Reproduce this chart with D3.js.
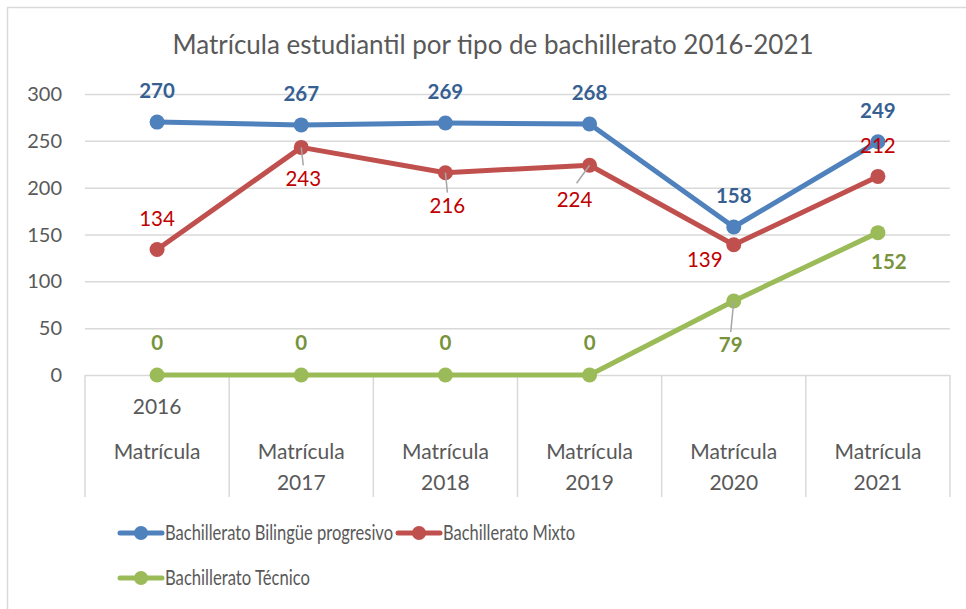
<!DOCTYPE html>
<html>
<head>
<meta charset="utf-8">
<script src="https://cdn.jsdelivr.net/npm/d3@7"></script>
<style>
  body { margin: 0; background: #fff; }
  svg { font-family: Lato, "Open Sans", sans-serif; }
</style>
</head>
<body>
<div class="main"></div>
<script>
// Data
const categories = ["Matrícula 2016", "Matrícula 2017", "Matrícula 2018", "Matrícula 2019", "Matrícula 2020", "Matrícula 2021"]
const bilingue = [270, 267, 269, 268, 158, 249]
const mixto = [134, 243, 216, 224, 139, 212]
const tecnico = [0, 0, 0, 0, 79, 152]
const seriesNames = ["Bachillerato Bilingüe progresivo", "Bachillerato Mixto", "Bachillerato Técnico"]
const yTicks = [0, 50, 100, 150, 200, 250, 300]

const width = 966
const height = 609
const margin = ({top: 94, right: 16, bottom: 234, left: 85})

// label offsets (dx, dy from the point), leader = draw leader line
const labelPlacement = [
  [[0, -31], [0, -31], [0, -31], [0, -31], [0, -31], [0, -31]],
  [[0, -31], [2, 31, true], [2, 33, true], [-15, 35, true], [-29, 15], [0, -31]],
  [[0, -32], [0, -32], [0, -32], [0, -32], [-3, 44, true], [11, 29]]
]
const lineColors = ["#4f81bd", "#c0504d", "#9bbb59"]
const labelColors = ["#376092", "#c00000", "#77933c"]
const labelWeights = ["bold", "normal", "bold"]

const series = [bilingue, mixto, tecnico].map((values, i) => ({name: seriesNames[i], values: values, i: i}))

const svg = d3.select(".main").append("svg")
  .attr("width", width)
  .attr("height", height)

// chart border (left and top visible)
svg.append("path")
  .attr("d", `M7.5,${height} V7.5 H${width}`)
  .attr("fill", "none")
  .attr("stroke", "#d9d9d9")
  .attr("stroke-width", 1.5)

const x = d3.scaleBand()
  .domain(categories)
  .range([margin.left, width - margin.right])

const y = d3.scaleLinear()
  .domain([0, 300])
  .range([375, margin.top])

// title
svg.append("text")
  .text("Matrícula estudiantil por tipo de bachillerato 2016-2021")
  .attr("x", 493)
  .attr("y", 54)
  .attr("text-anchor", "middle")
  .attr("font-size", 26)
  .attr("fill", "#595959")

// gridlines
svg.append("g")
  .selectAll("line")
  .data(yTicks.filter(d => d > 0))
  .join("line")
    .attr("x1", margin.left)
    .attr("x2", width - margin.right)
    .attr("y1", d => y(d) + 0.5)
    .attr("y2", d => y(d) + 0.5)
    .attr("stroke", "#d9d9d9")
    .attr("stroke-width", 1.5)

// y axis labels
svg.append("g")
  .selectAll("text")
  .data(yTicks)
  .join("text")
    .text(d => d)
    .attr("x", 62)
    .attr("y", d => y(d))
    .attr("dy", "0.35em")
    .attr("text-anchor", "end")
    .attr("font-size", 20)
    .attr("fill", "#595959")

// category axis: baseline plus band separators
const xAxis = svg.append("g")
xAxis.append("line")
  .attr("x1", margin.left)
  .attr("x2", width - margin.right)
  .attr("y1", y(0) + 0.5)
  .attr("y2", y(0) + 0.5)
  .attr("stroke", "#d9d9d9")
  .attr("stroke-width", 1.5)

const edges = categories.map(c => x(c)).concat([x.range()[1]])
xAxis.selectAll(".sep")
  .data(edges)
  .join("line")
    .attr("class", "sep")
    .attr("x1", d => d)
    .attr("x2", d => d)
    .attr("y1", y(0))
    .attr("y2", 497)
    .attr("stroke", "#d9d9d9")
    .attr("stroke-width", 1.5)

const catLabels = xAxis.selectAll(".cat")
  .data(categories)
  .join("g")
    .attr("class", "cat")
    .attr("transform", d => `translate(${x(d) + x.bandwidth() / 2}, 0)`)

catLabels.append("text")
  .text(d => d.split(" ")[0])
  .attr("y", 459)
  .attr("text-anchor", "middle")
  .attr("font-size", 21)
  .attr("fill", "#595959")

catLabels.append("text")
  .text(d => d.split(" ")[1])
  .attr("y", (d, i) => i === 0 ? 414 : 490)
  .attr("text-anchor", "middle")
  .attr("font-size", 21)
  .attr("fill", "#595959")

// lines
const line = d3.line()
  .x((d, i) => x(categories[i]) + x.bandwidth() / 2)
  .y(d => y(d))

const g = svg.append("g")
  .selectAll("g")
  .data(series)
  .join("g")

g.append("path")
  .attr("d", d => line(d.values))
  .attr("fill", "none")
  .attr("stroke", d => lineColors[d.i])
  .attr("stroke-width", 5)
  .attr("stroke-linejoin", "round")

g.selectAll("circle")
  .data(d => d.values.map(v => ({v: v, s: d.i})))
  .join("circle")
    .attr("cx", (d, i) => x(categories[i]) + x.bandwidth() / 2)
    .attr("cy", d => y(d.v))
    .attr("r", 7.5)
    .attr("fill", d => lineColors[d.s])

// data labels, drawn after all lines so they sit on top
const labels = svg.append("g")
series.forEach(s => {
  s.values.forEach((v, i) => {
    const px = x(categories[i]) + x.bandwidth() / 2
    const py = y(v)
    const p = labelPlacement[s.i][i]
    if (p[2]) {
      // leader line from point towards label
      const lx = px + p[0]
      const ly = py + p[1] - 13
      labels.append("line")
        .attr("x1", px)
        .attr("y1", py)
        .attr("x2", p[0] < -5 ? lx + 2 : lx)
        .attr("y2", p[0] < -5 ? py + p[1] - 17 : ly)
        .attr("stroke", "#a6a6a6")
        .attr("stroke-width", 1.5)
    }
    labels.append("text")
      .text(v)
      .attr("x", px + p[0])
      .attr("y", py + p[1])
      .attr("dy", "0.35em")
      .attr("text-anchor", "middle")
      .attr("font-size", 20.5)
      .attr("font-weight", labelWeights[s.i])
      .attr("fill", labelColors[s.i])
  })
})

// legend
const legendItems = [
  {x: 120, y: 533, w: 228},
  {x: 398, y: 533, w: 132},
  {x: 120, y: 578, w: 145}
]
const legend = svg.append("g")
  .selectAll("g")
  .data(series)
  .join("g")
    .attr("transform", d => `translate(${legendItems[d.i].x}, ${legendItems[d.i].y})`)

legend.append("line")
  .attr("x1", 0)
  .attr("x2", 42)
  .attr("stroke", d => lineColors[d.i])
  .attr("stroke-width", 5)
  .attr("stroke-linecap", "round")

legend.append("circle")
  .attr("cx", 21)
  .attr("r", 7)
  .attr("fill", d => lineColors[d.i])

legend.append("text")
  .text(d => d.name)
  .attr("x", 45)
  .attr("dy", "0.35em")
  .attr("font-size", 20.5)
  .attr("textLength", d => legendItems[d.i].w)
  .attr("lengthAdjust", "spacingAndGlyphs")
  .attr("fill", "#595959")
</script>
</body>
</html>
